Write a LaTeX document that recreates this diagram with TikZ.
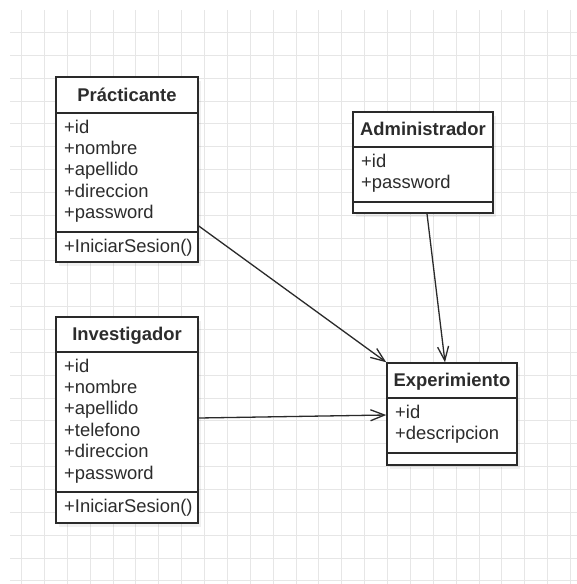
\documentclass[tikz,border=0pt]{standalone}
\usepackage{fontspec}
\setmainfont{Liberation Sans}
\usetikzlibrary{arrows.meta}
\definecolor{inkline}{HTML}{2A2A2A}
\definecolor{inktext}{HTML}{2C2C2C}
\definecolor{gridline}{HTML}{E6E6E6}
\tikzset{
  umlbox/.style={draw=inkline, line width=1.5pt, fill=white, inner sep=0pt},
  umlshadow/.style={fill=black, opacity=0.06, draw=none},
  sepline/.style={draw=inkline, line width=1.5pt},
  classname/.style={font=\fontsize{18.4}{21.4}\selectfont\bfseries, text=inktext, inner sep=0pt, anchor=base},
  member/.style={font=\fontsize{18.4}{21.4}\selectfont, text=inktext, inner sep=0pt, anchor=base west},
  assoc/.style={draw=inkline, line width=1.3pt, -{Straight Barb[length=14pt,width=11pt,line width=1.3pt]}}
}
\begin{document}
\begin{tikzpicture}[x=1pt, y=-1pt]
  \useasboundingbox[fill=white] (0,0) rectangle (577,584);

  % background grid
  \foreach \k in {0,...,24}
    \draw[gridline, line width=0.8pt] ({21.5+22.87*\k},10) -- ({21.5+22.87*\k},584);
  \foreach \k in {1,...,25}
    \draw[gridline, line width=0.8pt] (10,{9.5+22.85*\k}) -- (577,{9.5+22.85*\k});

  % soft shadows under the class boxes
  \fill[umlshadow] (59,81) rectangle (201,266);
  \fill[umlshadow] (356,116) rectangle (496,217);
  \fill[umlshadow] (59,321) rectangle (201,527);
  \fill[umlshadow] (390,367) rectangle (520,469);

  % class boxes
  \node[umlbox, minimum width=142pt, minimum height=185pt] (prac) at (127,169.5) {};
  \node[umlbox, minimum width=140pt, minimum height=101pt] (adm) at (423,162.5) {};
  \node[umlbox, minimum width=142pt, minimum height=206pt] (inv) at (127,420) {};
  \node[umlbox, minimum width=130pt, minimum height=102pt] (exp) at (452,414) {};

  % compartment separators
  \draw[sepline] (prac.west |- 0,113) -- (prac.east |- 0,113);
  \draw[sepline] (prac.west |- 0,232) -- (prac.east |- 0,232);
  \draw[sepline] (adm.west |- 0,147) -- (adm.east |- 0,147);
  \draw[sepline] (adm.west |- 0,202) -- (adm.east |- 0,202);
  \draw[sepline] (inv.west |- 0,352) -- (inv.east |- 0,352);
  \draw[sepline] (inv.west |- 0,492) -- (inv.east |- 0,492);
  \draw[sepline] (exp.west |- 0,398) -- (exp.east |- 0,398);
  \draw[sepline] (exp.west |- 0,453) -- (exp.east |- 0,453);

  % Prácticante
  \node[classname] (prac-name) at (127,101) {Prácticante};
  \foreach \t [count=\i from 0] in {+id,+nombre,+apellido,+direccion,+password}
    \node[member] (prac-attr\i) at (64,{133+21.4*\i}) {\t};
  \node[member] (prac-op) at (64,252) {+IniciarSesion()};

  % Administrador
  \node[classname] (adm-name) at (423,135.6) {Administrador};
  \node[member] (adm-attr0) at (361,167) {+id};
  \node[member] (adm-attr1) at (361,188.4) {+password};

  % Investigador
  \node[classname] (inv-name) at (127,340.7) {Investigador};
  \foreach \t [count=\i from 0] in {+id,+nombre,+apellido,+telefono,+direccion,+password}
    \node[member] (inv-attr\i) at (64,{372+21.4*\i}) {\t};
  \node[member] (inv-op) at (64,512.5) {+IniciarSesion()};

  % Experimiento
  \node[classname] (exp-name) at (452,386.7) {Experimiento};
  \node[member] (exp-attr0) at (395,418) {+id};
  \node[member] (exp-attr1) at (395,439.4) {+descripcion};

  % associations
  \draw[assoc] (prac.east |- 0,226) -- (exp.north west);
  \draw[assoc] ([xshift=4pt]adm.south) -- ([xshift=-7pt]exp.north);
  \draw[assoc] ([yshift=2pt]inv.east) -- ([yshift=-1pt]exp.west);
\end{tikzpicture}
\end{document}
